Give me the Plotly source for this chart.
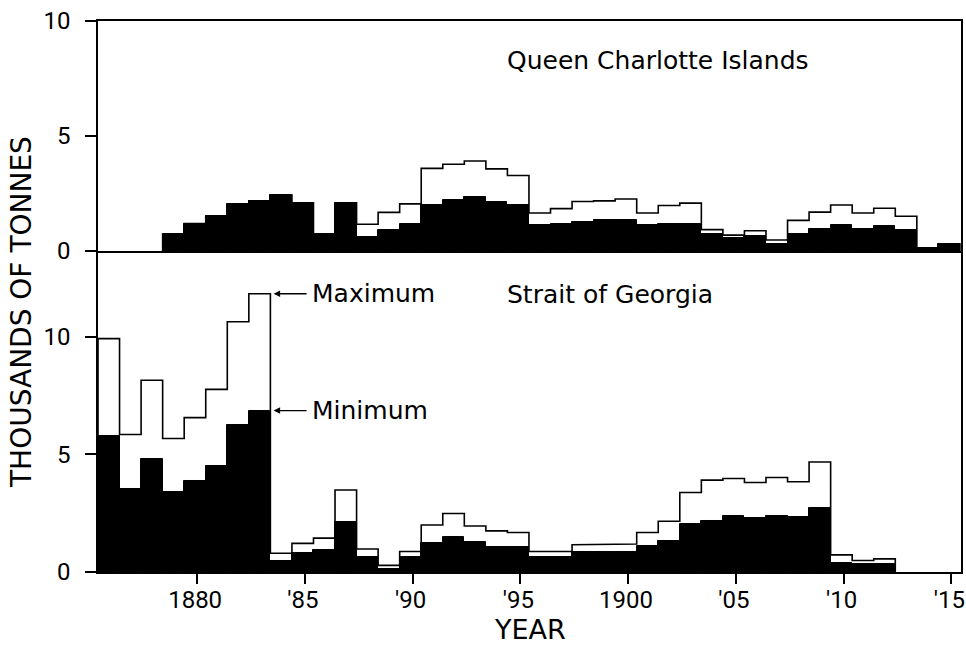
import plotly.graph_objects as go
from plotly.subplots import make_subplots

# Queen Charlotte Islands catch, thousands of tonnes (minimum / maximum estimates)
qci_years = list(range(1879, 1916))
qci_min = [0.73, 1.19, 1.51, 2.03, 2.18, 2.43, 2.09, 0.73, 2.09, 0.62,
           0.93, 1.19, 2.00, 2.20, 2.33, 2.15, 2.00, 1.13, 1.19, 1.27,
           1.36, 1.33, 1.13, 1.16, 1.16, 0.73, 0.56, 0.66, 0.31, 0.73,
           0.97, 1.13, 0.97, 1.09, 0.90, 0.14, 0.31]
qci_max = [0.73, 1.19, 1.51, 2.03, 2.18, 2.43, 2.09, 0.73, 2.09, 1.16,
           1.68, 2.05, 3.59, 3.77, 3.91, 3.57, 3.28, 1.65, 1.84, 2.15,
           2.18, 2.26, 1.65, 1.98, 2.08, 0.93, 0.69, 0.88, 0.48, 1.33,
           1.69, 2.00, 1.65, 1.86, 1.51, 0.14, 0.31]

# Strait of Georgia catch, thousands of tonnes (minimum / maximum estimates)
sog_years = list(range(1876, 1913))
sog_min = [5.78, 3.53, 4.79, 3.42, 3.87, 4.50, 6.25, 6.87, 0.49, 0.81,
           0.94, 2.14, 0.66, 0.12, 0.63, 1.22, 1.51, 1.26, 1.05, 1.05,
           0.63, 0.63, 0.84, 0.84, 0.84, 1.12, 1.33, 2.03, 2.16, 2.40,
           2.30, 2.40, 2.33, 2.72, 0.38, 0.32, 0.32]
sog_max = [9.93, 5.85, 8.16, 5.68, 6.57, 7.77, 10.65, 11.84, 0.80, 1.22,
           1.44, 3.49, 0.98, 0.28, 0.87, 2.00, 2.49, 1.96, 1.75, 1.68,
           0.87, 0.87, 1.16, 1.19, 1.19, 1.68, 2.16, 3.38, 3.91, 3.98,
           3.81, 4.02, 3.84, 4.68, 0.73, 0.49, 0.56]

x_tick_vals = [1880, 1885, 1890, 1895, 1900, 1905, 1910, 1915]
x_tick_text = ["1880", "'85", "'90", "'95", "1900", "'05", "'10", "'15"]
y_tick_vals = [0, 5, 10]

FONT = "DejaVu Sans"
NUM_FONT = "Roboto"
BAR_OFFSET = -0.6   # each season's bar spans [year-0.6, year+0.4]


def step_outline(years, values):
    """Outline of adjacent unit-width bars as one stepped line."""
    xs, ys = [years[0] + BAR_OFFSET], [0]
    for yr, v in zip(years, values):
        xs += [yr + BAR_OFFSET, yr + BAR_OFFSET + 1]
        ys += [v, v]
    xs.append(years[-1] + BAR_OFFSET + 1)
    ys.append(0)
    return xs, ys


split = 0.5826
fig = make_subplots(rows=2, cols=1, shared_xaxes=True, vertical_spacing=0,
                    row_heights=[1 - split, split])

for row, years, vmin, vmax in [(1, qci_years, qci_min, qci_max),
                               (2, sog_years, sog_min, sog_max)]:
    fig.add_trace(go.Bar(x=years, y=vmin, width=1, offset=BAR_OFFSET,
                         marker=dict(color="black",
                                     line=dict(color="black", width=1)),
                         showlegend=False, hoverinfo="x+y"),
                  row=row, col=1)
    sx, sy = step_outline(years, vmax)
    fig.add_trace(go.Scatter(x=sx, y=sy, mode="lines",
                             line=dict(color="black", width=1.6),
                             showlegend=False, hoverinfo="skip"),
                  row=row, col=1)

axis_line = dict(showline=True, linecolor="black", linewidth=1.6,
                 showgrid=False, zeroline=False, ticks="outside",
                 tickwidth=1.5, tickcolor="black", automargin=False)

fig.update_xaxes(range=[1875.4, 1915.45], ticklen=10, **axis_line)
fig.update_xaxes(row=1, col=1, mirror=True, ticks="", showticklabels=False)
fig.update_xaxes(row=2, col=1, tickvals=x_tick_vals, ticktext=x_tick_text,
                 ticklabeloverflow="allow", ticklabelstandoff=-5,
                 ticklabelshift=-2,
                 tickfont=dict(family=NUM_FONT, size=24, color="black"))

fig.update_yaxes(tickvals=y_tick_vals, mirror=True, ticklen=11,
                 tickfont=dict(family=NUM_FONT, size=24, color="black"),
                 ticklabelstandoff=10, **axis_line)
fig.update_yaxes(row=1, col=1, range=[0, 10])
fig.update_yaxes(row=2, col=1, range=[0, 13.66])

txt = dict(family=FONT, size=25, color="black")
annotations = [
    dict(text="Queen Charlotte Islands", x=1894.3, y=8.3, xref="x", yref="y",
         xanchor="left", yanchor="middle", showarrow=False, font=txt),
    dict(text="Strait of Georgia", x=1894.3, y=11.8, xref="x2", yref="y2",
         xanchor="left", yanchor="middle", showarrow=False, font=txt),
    dict(text="Maximum", x=1885.25, y=11.84, xref="x2", yref="y2",
         xanchor="left", yanchor="middle", showarrow=False, font=txt),
    dict(text="Minimum", x=1885.25, y=6.87, xref="x2", yref="y2",
         xanchor="left", yanchor="middle", showarrow=False, font=txt),
    dict(text="THOUSANDS OF TONNES", x=-0.088, y=0.472, xref="paper",
         yref="paper", textangle=-90, showarrow=False,
         xanchor="center", yanchor="middle",
         font=dict(family=FONT, size=28, color="black")),
    dict(text="YEAR", x=0.5, y=-0.104, xref="paper", yref="paper",
         showarrow=False, xanchor="center", yanchor="middle",
         font=dict(family=FONT, size=27, color="black")),
]
# arrows from the labels to the 1883 Strait of Georgia estimates
for val in [sog_max[sog_years.index(1883)], sog_min[sog_years.index(1883)]]:
    annotations.append(dict(text="", x=1883.55, y=val, xref="x2", yref="y2",
                            ax=1885.15, ay=val, axref="x2", ayref="y2",
                            showarrow=True, arrowhead=2, arrowsize=1,
                            arrowwidth=1.3, arrowcolor="black"))

fig.update_layout(width=966, height=661, plot_bgcolor="white",
                  paper_bgcolor="white", bargap=0, barmode="overlay",
                  margin=dict(l=98, r=5, t=21, b=89, autoexpand=False),
                  annotations=annotations)

fig.write_html("out.html")
